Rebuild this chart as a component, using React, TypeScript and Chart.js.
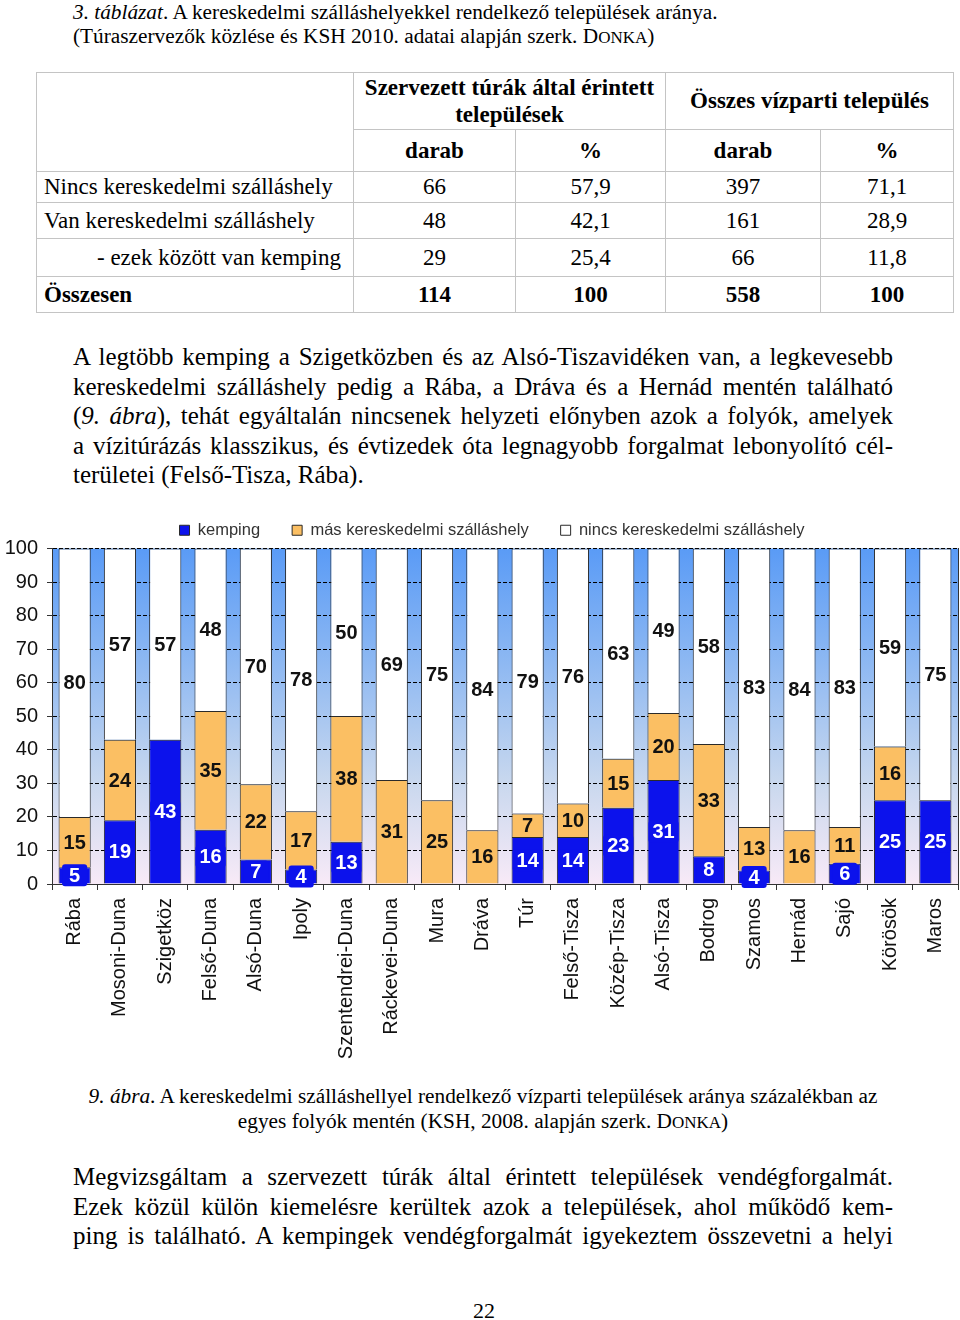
import React, { useEffect, useRef } from 'react';
import { Chart, registerables } from 'chart.js';

Chart.register(...registerables);

// ---------- chart data ----------
const rivers = [
  'Rába', 'Mosoni-Duna', 'Szigetköz', 'Felső-Duna', 'Alsó-Duna', 'Ipoly',
  'Szentendrei-Duna', 'Ráckevei-Duna', 'Mura', 'Dráva', 'Túr', 'Felső-Tisza',
  'Közép-Tisza', 'Alsó-Tisza', 'Bodrog', 'Szamos', 'Hernád', 'Sajó', 'Körösök', 'Maros',
];
const kempingValues = [5, 19, 43, 16.2, 7.3, 4.3, 12.6, 0, 0, 0, 14, 14, 22.7, 31, 8.3, 4, 0, 6, 25, 25];
const masValues = [15, 24, 0, 35.4, 22.4, 17.4, 37.5, 31, 25, 16, 7, 10, 14.6, 20, 33.4, 13, 16, 11, 16, 0];
const nincsValues = [80, 57, 57, 48.4, 70.3, 78.3, 49.9, 69, 75, 84, 79, 76, 62.7, 49, 58.3, 83, 84, 83, 59, 75];
const seriesNames = ['kemping', 'más kereskedelmi szálláshely', 'nincs kereskedelmi szálláshely'];
const yMin = 0;
const yMax = 100;
const yStep = 10;

// ---------- table data ----------
const tableRowLabels = [
  'Nincs kereskedelmi szálláshely',
  'Van kereskedelmi szálláshely',
  '- ezek között van kemping',
  'Összesen',
];
const tourCount = ['66', '48', '29', '114'];
const tourPct = ['57,9', '42,1', '25,4', '100'];
const allCount = ['397', '161', '66', '558'];
const allPct = ['71,1', '28,9', '11,8', '100'];

const SERIF = '"Liberation Serif", "Times New Roman", serif';
const SANS = 'Arial, "Liberation Sans", sans-serif';

const COLORS = {
  kemping: '#0c12ec',
  mas: '#fbbf63',
  nincs: '#ffffff',
  border: '#2a2a2a',
};

const bgPlugin = {
  id: 'plotBackground',
  beforeDraw(chart: any) {
    const { ctx, chartArea } = chart;
    if (!chartArea) return;
    const g = ctx.createLinearGradient(0, chartArea.top, 0, chartArea.bottom);
    g.addColorStop(0, '#5a9bf6');
    g.addColorStop(0.35, '#8fb9f2');
    g.addColorStop(0.7, '#c9d8ee');
    g.addColorStop(1, '#f8eaf7');
    ctx.save();
    ctx.fillStyle = g;
    ctx.fillRect(chartArea.left, chartArea.top, chartArea.right - chartArea.left, chartArea.bottom - chartArea.top);
    ctx.restore();
  },
};

const labelPlugin = {
  id: 'segmentLabels',
  afterDatasetsDraw(chart: any) {
    const ctx = chart.ctx;
    chart.data.datasets.forEach((ds: any, di: number) => {
      const meta = chart.getDatasetMeta(di);
      meta.data.forEach((el: any, i: number) => {
        const v = ds.data[i];
        if (!v) return;
        const p = el.getProps(['x', 'y', 'base', 'width'], true);
        const cy = (p.y + p.base) / 2;
        const txt = String(Math.round(v));
        ctx.save();
        ctx.font = 'bold 20px ' + SANS;
        ctx.textAlign = 'center';
        ctx.textBaseline = 'middle';
        if (di === 0) {
          const tw = ctx.measureText(txt).width;
          const w = Math.min(tw + 14, p.width - 2);
          const h = 22;
          ctx.fillStyle = COLORS.kemping;
          ctx.beginPath();
          if ((ctx as any).roundRect) {
            (ctx as any).roundRect(p.x - w / 2, cy - h / 2, w, h, 3);
          } else {
            ctx.rect(p.x - w / 2, cy - h / 2, w, h);
          }
          ctx.fill();
          ctx.fillStyle = '#ffffff';
        } else {
          ctx.fillStyle = '#111111';
        }
        ctx.fillText(txt, p.x, cy + 1);
        ctx.restore();
      });
    });
  },
};

function ChartBlock() {
  const ref = useRef<HTMLCanvasElement>(null);
  useEffect(() => {
    if (!ref.current) return;
    Chart.defaults.font.family = SANS;
    const chart = new Chart(ref.current, {
      type: 'bar',
      data: {
        labels: rivers,
        datasets: [
          { label: seriesNames[0], data: kempingValues, backgroundColor: COLORS.kemping, borderColor: COLORS.border, borderWidth: 1 },
          { label: seriesNames[1], data: masValues, backgroundColor: COLORS.mas, borderColor: COLORS.border, borderWidth: 1 },
          { label: seriesNames[2], data: nincsValues, backgroundColor: COLORS.nincs, borderColor: COLORS.border, borderWidth: 1 },
        ],
      },
      options: {
        animation: false,
        responsive: false,
        devicePixelRatio: 1,
        layout: { padding: 0 },
        datasets: { bar: { barPercentage: 0.71, categoryPercentage: 1 } },
        plugins: {
          legend: {
            display: true,
            position: 'top',
            labels: {
              boxWidth: 10,
              boxHeight: 10,
              padding: 32,
              color: '#333333',
              font: { size: 16.5, family: SANS },
            },
          },
          tooltip: { enabled: false },
        },
        scales: {
          x: {
            stacked: true,
            offset: true,
            grid: { display: true, drawOnChartArea: false, drawTicks: true, tickLength: 6, offset: true, tickColor: '#333333', color: '#333333' },
            border: { display: true, color: '#333333', width: 1 },
            ticks: {
              autoSkip: false,
              maxRotation: 90,
              minRotation: 90,
              padding: 8,
              color: '#111111',
              font: { size: 20, family: SANS },
            },
            afterFit(s: any) { s.height = 186; },
          },
          y: {
            stacked: true,
            min: yMin,
            max: yMax,
            ticks: { stepSize: yStep, padding: 9, color: '#111111', font: { size: 20, family: SANS } },
            grid: { color: '#000000', lineWidth: 1, tickLength: 5, tickColor: '#333333', tickBorderDash: [], borderDash: [4, 2] } as any,
            border: { display: true, color: '#333333', width: 1, dash: [4, 2] } as any,
            afterFit(s: any) { s.width = 52; },
          },
          yRight: {
            position: 'right',
            display: true,
            min: yMin,
            max: yMax,
            grid: { display: false, drawTicks: false },
            ticks: { display: false },
            border: { display: true, color: '#333333', width: 1 },
            afterFit(s: any) { s.width = 26; },
          },
        },
      } as any,
      plugins: [bgPlugin, labelPlugin],
    });
    return () => chart.destroy();
  }, []);
  return (
    <canvas
      ref={ref}
      width={984}
      height={580}
      style={{ position: 'absolute', left: 0, top: 490, width: 984, height: 580 }}
    />
  );
}

const smallCaps: React.CSSProperties = { fontSize: '0.8em' };

function JLine({ children, last }: { children: React.ReactNode; last?: boolean }) {
  return (
    <div style={{ textAlign: last ? 'left' : 'justify', textAlignLast: last ? 'left' : 'justify', whiteSpace: 'nowrap' } as React.CSSProperties}>
      {children}
    </div>
  );
}

const cell: React.CSSProperties = {
  border: '1px solid #c4c4c4',
  padding: 0,
  textAlign: 'center',
  verticalAlign: 'middle',
};

export default function App() {
  const rowHeights = [31, 36, 38, 36];
  return (
    <div style={{ position: 'absolute', left: 0, top: 0, width: 960, height: 1320, overflow: 'hidden', background: '#ffffff', color: '#000', fontFamily: SERIF }}>
      {/* table caption */}
      <div style={{ position: 'absolute', left: 73, top: 0, fontSize: 21.3, lineHeight: '24px', whiteSpace: 'nowrap' }}>
        <div><i>3. táblázat</i>. A kereskedelmi szálláshelyekkel rendelkező települések aránya.</div>
        <div>(Túraszervezők közlése és KSH 2010. adatai alapján szerk. D<span style={smallCaps}>ONKA</span>)</div>
      </div>

      {/* table */}
      <table style={{ position: 'absolute', left: 36, top: 72, width: 917, borderCollapse: 'collapse', tableLayout: 'fixed', fontSize: 23, fontFamily: SERIF }}>
        <colgroup>
          <col style={{ width: 317 }} />
          <col style={{ width: 162 }} />
          <col style={{ width: 150 }} />
          <col style={{ width: 155 }} />
          <col style={{ width: 133 }} />
        </colgroup>
        <tbody>
          <tr style={{ height: 57 }}>
            <td style={cell} rowSpan={2}></td>
            <td style={{ ...cell, fontWeight: 'bold', lineHeight: '27px', whiteSpace: 'nowrap' }} colSpan={2}>
              Szervezett túrák által érintett<br />települések
            </td>
            <td style={{ ...cell, fontWeight: 'bold', whiteSpace: 'nowrap' }} colSpan={2}>Összes vízparti település</td>
          </tr>
          <tr style={{ height: 42 }}>
            <td style={{ ...cell, fontWeight: 'bold' }}>darab</td>
            <td style={{ ...cell, fontWeight: 'bold' }}>%</td>
            <td style={{ ...cell, fontWeight: 'bold' }}>darab</td>
            <td style={{ ...cell, fontWeight: 'bold' }}>%</td>
          </tr>
          {tableRowLabels.map((lab, i) => {
            const bold = i === tableRowLabels.length - 1;
            const fw = bold ? 'bold' : 'normal';
            return (
              <tr key={lab} style={{ height: rowHeights[i] }}>
                <td style={{ ...cell, textAlign: 'left', paddingLeft: i === 2 ? 60 : 7, fontWeight: fw, whiteSpace: 'nowrap' }}>{lab}</td>
                <td style={{ ...cell, fontWeight: fw }}>{tourCount[i]}</td>
                <td style={{ ...cell, fontWeight: fw }}>{tourPct[i]}</td>
                <td style={{ ...cell, fontWeight: fw }}>{allCount[i]}</td>
                <td style={{ ...cell, fontWeight: fw }}>{allPct[i]}</td>
              </tr>
            );
          })}
        </tbody>
      </table>

      {/* paragraph 1 */}
      <div style={{ position: 'absolute', left: 73, top: 342, width: 820, fontSize: 25, lineHeight: '29.5px' }}>
        <JLine>A legtöbb kemping a Szigetközben és az Alsó-Tiszavidéken van, a legkevesebb</JLine>
        <JLine>kereskedelmi szálláshely pedig a Rába, a Dráva és a Hernád mentén található</JLine>
        <JLine>(<i>9. ábra</i>), tehát egyáltalán nincsenek helyzeti előnyben azok a folyók, amelyek</JLine>
        <JLine>a vízitúrázás klasszikus, és évtizedek óta legnagyobb forgalmat lebonyolító cél-</JLine>
        <JLine last>területei (Felső-Tisza, Rába).</JLine>
      </div>

      {/* chart */}
      <ChartBlock />

      {/* figure caption */}
      <div style={{ position: 'absolute', left: 73, top: 1084, width: 820, fontSize: 21.3, lineHeight: '25px', textAlign: 'center', whiteSpace: 'nowrap' }}>
        <div><i>9. ábra</i>. A kereskedelmi szálláshellyel rendelkező vízparti települések aránya százalékban az</div>
        <div>egyes folyók mentén (KSH, 2008. alapján szerk. D<span style={smallCaps}>ONKA</span>)</div>
      </div>

      {/* paragraph 2 */}
      <div style={{ position: 'absolute', left: 73, top: 1162, width: 820, fontSize: 25, lineHeight: '29.5px' }}>
        <JLine>Megvizsgáltam a szervezett túrák által érintett települések vendégforgalmát.</JLine>
        <JLine>Ezek közül külön kiemelésre kerültek azok a települések, ahol működő kem-</JLine>
        <JLine>ping is található. A kempingek vendégforgalmát igyekeztem összevetni a helyi</JLine>
      </div>

      {/* page number */}
      <div style={{ position: 'absolute', left: 0, top: 1297, width: 968, textAlign: 'center', fontSize: 22, lineHeight: '28px' }}>22</div>
    </div>
  );
}
